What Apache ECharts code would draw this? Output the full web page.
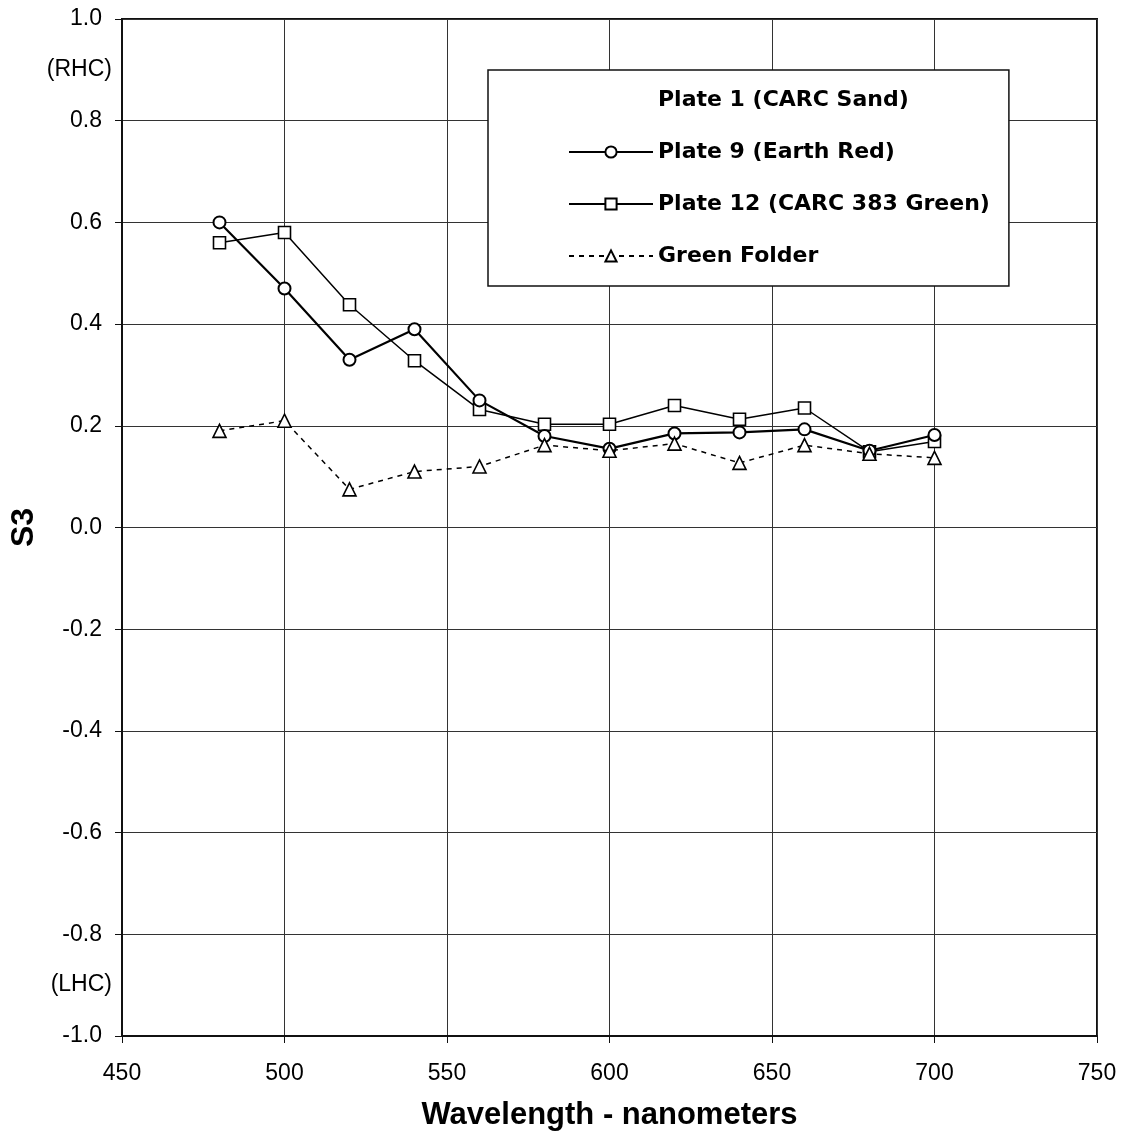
<!DOCTYPE html>
<html><head><meta charset="utf-8">
<script src="https://cdn.jsdelivr.net/npm/echarts@6/dist/echarts.min.js"></script>
<style>html,body{margin:0;padding:0;background:#fff}#c{width:1126px;height:1147px}</style>
</head><body><div id="c"></div>
<script>
const wavelengths = [480, 500, 520, 540, 560, 580, 600, 620, 640, 660, 680, 700];
const plate9 = [0.60, 0.47, 0.33, 0.39, 0.25, 0.18, 0.155, 0.185, 0.187, 0.193, 0.151, 0.182];
const plate12 = [0.56, 0.58, 0.438, 0.328, 0.232, 0.203, 0.203, 0.24, 0.213, 0.235, 0.149, 0.169];
const greenFolder = [0.19, 0.21, 0.075, 0.11, 0.12, 0.162, 0.151, 0.165, 0.127, 0.162, 0.145, 0.137];
const seriesNames = ['Plate 1 (CARC Sand)', 'Plate 9 (Earth Red)', 'Plate 12 (CARC 383 Green)', 'Green Folder'];
const xTicks = [450, 500, 550, 600, 650, 700, 750];
const yTicks = [-1.0, -0.8, -0.6, -0.4, -0.2, 0.0, 0.2, 0.4, 0.6, 0.8, 1.0];
const handLabels = {'0.9': '(RHC)', '-0.9': '(LHC)'};

const pair = (ys) => wavelengths.map((x, i) => [x, ys[i]]);
const font = "'Liberation Sans', Arial, sans-serif";
const legendFont = "'DejaVu Sans', sans-serif";
const chart = echarts.init(document.getElementById('c'), null, {renderer: 'canvas'});
chart.setOption({
  animation: false,
  backgroundColor: '#fff',
  grid: {left: 120, right: 29, top: 19, bottom: 111, show: true, borderColor: '#111', borderWidth: 2},
  legend: {
    orient: 'vertical', left: 488, top: 70,
    backgroundColor: '#fff', borderColor: '#111', borderWidth: 1.5,
    padding: [19, 19, 19, 80],
    itemWidth: 84, itemHeight: 14, itemGap: 30,
    textStyle: {fontFamily: legendFont, fontSize: 22, fontWeight: 'bold', color: '#000'},
    data: [
      {name: seriesNames[0], icon: 'rect', itemStyle: {color: 'transparent', borderWidth: 0}},
      {name: seriesNames[1]},
      {name: seriesNames[2]},
      {name: seriesNames[3]}
    ]
  },
  xAxis: {
    type: 'value', min: 450, max: 750, interval: 50,
    name: 'Wavelength - nanometers', nameLocation: 'middle', nameGap: 64,
    nameTextStyle: {fontFamily: font, fontSize: 31, fontWeight: 'bold', color: '#000'},
    axisLine: {show: true, onZero: false, lineStyle: {color: '#111', width: 2}},
    axisTick: {show: true, inside: false, length: 7, lineStyle: {color: '#111'}},
    axisLabel: {fontFamily: font, fontSize: 23, color: '#000', margin: 26},
    splitLine: {show: true, lineStyle: {color: '#333', width: 1}}
  },
  yAxis: [{
    type: 'value', min: -1, max: 1, interval: 0.2,
    name: 'S3', nameLocation: 'middle', nameGap: 82,
    nameTextStyle: {fontFamily: font, fontSize: 32, fontWeight: 'bold', color: '#000'},
    axisLine: {show: true, onZero: false, lineStyle: {color: '#111', width: 2}},
    axisTick: {show: true, inside: false, length: 7, lineStyle: {color: '#111'}},
    axisLabel: {fontFamily: font, fontSize: 23, color: '#000', margin: 20,
      formatter: v => (Math.abs(v) < 1e-9 ? 0 : v).toFixed(1)},
    splitLine: {show: true, lineStyle: {color: '#333', width: 1}}
  }, {
    type: 'value', min: -1, max: 1, interval: 0.1, position: 'left',
    axisLine: {show: false, onZero: false}, axisTick: {show: false}, splitLine: {show: false},
    axisLabel: {fontFamily: font, fontSize: 23, color: '#000', margin: 10,
      formatter: v => handLabels[(Math.round(v * 10) / 10).toFixed(1)] || ''}
  }],
  series: [
    {name: seriesNames[0], type: 'line', data: [], symbol: 'none', lineStyle: {opacity: 0}, itemStyle: {color: 'transparent'}},
    {name: seriesNames[1], type: 'line', data: pair(plate9), symbol: 'circle', symbolSize: 12,
      lineStyle: {color: '#000', width: 2.2}, itemStyle: {color: '#fff', borderColor: '#000', borderWidth: 2}, z: 3},
    {name: seriesNames[2], type: 'line', data: pair(plate12), symbol: 'rect', symbolSize: 12,
      lineStyle: {color: '#000', width: 1.5}, itemStyle: {color: '#fff', borderColor: '#000', borderWidth: 1.6}, z: 2},
    {name: seriesNames[3], type: 'line', data: pair(greenFolder), symbol: 'triangle', symbolSize: 13,
      lineStyle: {color: '#000', width: 1.5, type: [5, 5]}, itemStyle: {color: '#fff', borderColor: '#000', borderWidth: 1.6}, z: 4}
  ]
});
</script></body></html>
